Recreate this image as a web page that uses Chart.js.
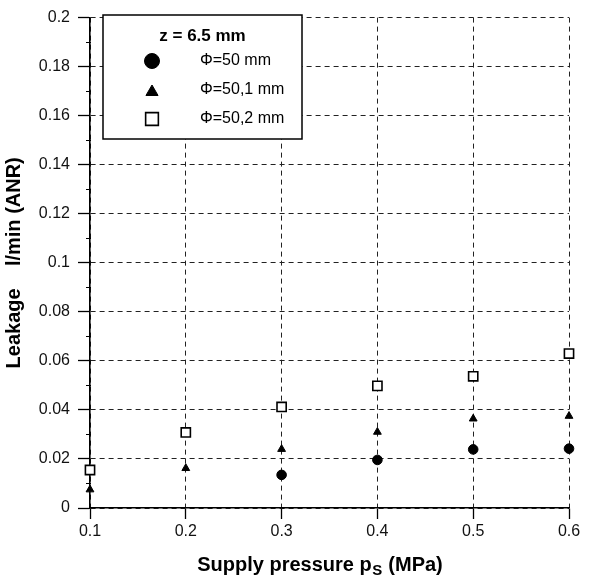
<!DOCTYPE html>
<html><head><meta charset="utf-8">
<script src="https://cdn.jsdelivr.net/npm/chart.js@4.4.1/dist/chart.umd.min.js"></script>
<style>html,body{margin:0;padding:0;background:#fff}#wrap{width:599px;height:578px}</style>
</head><body><div id="wrap"><canvas id="c" width="599" height="578"></canvas></div>
<script>
const pressure = [0.1, 0.2, 0.3, 0.4, 0.5, 0.6];
const leak50  = [null, null, 0.0135, 0.0196, 0.0239, 0.0242];
const leak501 = [0.0075, 0.0162, 0.0240, 0.0310, 0.0364, 0.0375];
const leak502 = [0.0155, 0.0308, 0.0412, 0.0498, 0.0537, 0.0630];
const seriesLabels = ['\u03A6=50 mm', '\u03A6=50,1 mm', '\u03A6=50,2 mm'];
const legendTitle = 'z = 6.5 mm';
const xTitleParts = ['Supply pressure p', 'S', ' (MPa)'];
const yTitle = 'Leakage    l/min (ANR)';
const xTicks = [0.1, 0.2, 0.3, 0.4, 0.5, 0.6];
const yTicks = [0, 0.02, 0.04, 0.06, 0.08, 0.1, 0.12, 0.14, 0.16, 0.18, 0.2];

const FONT = "'Liberation Sans', Arial, sans-serif";
const toPts = ys => pressure.map((x, i) => ({x, y: ys[i]})).filter(p => p.y !== null);

const styles = [
  {pointStyle: 'circle', radius: 4.8, bg: '#000', border: '#000', bw: 1, lr: 7.5},
  {pointStyle: 'triangle', radius: 4.5, bg: '#000', border: '#000', bw: 1, lr: 7},
  {pointStyle: 'rect', radius: 6.5, bg: '#fff', border: '#000', bw: 1.6, lr: 9}
];
const seriesData = [leak50, leak501, leak502];

const decor = {
  id: 'decor',
  afterDraw(chart) {
    const ctx = chart.ctx;
    const ys = chart.scales.y;
    const ca = chart.chartArea;
    ctx.save();
    // minor y ticks
    ctx.strokeStyle = '#000'; ctx.lineWidth = 1;
    for (let k = 1; k < 20; k += 2) {
      const py = Math.round(ys.getPixelForValue(k / 100)) + 0.5;
      ctx.beginPath(); ctx.moveTo(ca.left - 4, py); ctx.lineTo(ca.left + 1, py); ctx.stroke();
    }
    // legend box
    const bx = 103, by = 15, bw = 199, bh = 124;
    ctx.fillStyle = '#fff';
    ctx.fillRect(bx, by, bw, bh);
    ctx.strokeStyle = '#000'; ctx.lineWidth = 1.5;
    ctx.strokeRect(bx, by, bw, bh);
    ctx.fillStyle = '#000';
    ctx.font = 'bold 17px ' + FONT;
    ctx.textAlign = 'center'; ctx.textBaseline = 'middle';
    ctx.fillText(legendTitle, bx + bw / 2, 36);
    const rowY = [61, 90, 119];
    ctx.font = '16px ' + FONT;
    ctx.textAlign = 'left';
    styles.forEach((s, i) => {
      ctx.fillStyle = s.bg; ctx.strokeStyle = s.border; ctx.lineWidth = s.bw;
      const cy = s.pointStyle === 'triangle' ? rowY[i] + 2 : rowY[i];
      Chart.helpers.drawPoint(ctx, {pointStyle: s.pointStyle, radius: s.lr, rotation: 0, borderWidth: s.bw}, 152, cy);
      ctx.fillStyle = '#000';
      ctx.fillText(seriesLabels[i], 200, rowY[i]);
    });
    // x title with subscript
    ctx.fillStyle = '#000';
    ctx.textBaseline = 'alphabetic';
    const mainFont = 'bold 20px ' + FONT, subFont = 'bold 15px ' + FONT;
    ctx.font = mainFont; const w0 = ctx.measureText(xTitleParts[0]).width;
    const w2 = ctx.measureText(xTitleParts[2]).width;
    ctx.font = subFont; const w1 = ctx.measureText(xTitleParts[1]).width + 1;
    const total = w0 + w1 + w2;
    let sx = 320 - total / 2;
    const base = 571;
    ctx.font = mainFont; ctx.fillText(xTitleParts[0], sx, base); sx += w0;
    ctx.font = subFont; ctx.fillText(xTitleParts[1], sx + 0.5, base + 4); sx += w1;
    ctx.font = mainFont; ctx.fillText(xTitleParts[2], sx, base);
    ctx.restore();
  }
};

new Chart(document.getElementById('c'), {
  type: 'scatter',
  data: {
    datasets: seriesData.map((d, i) => ({
      label: seriesLabels[i],
      data: toPts(d),
      pointStyle: styles[i].pointStyle,
      pointRadius: styles[i].radius,
      pointHoverRadius: styles[i].radius,
      backgroundColor: styles[i].bg,
      borderColor: styles[i].border,
      borderWidth: styles[i].bw,
      showLine: false,
      clip: false
    }))
  },
  options: {
    responsive: false,
    animation: false,
    devicePixelRatio: 1,
    layout: {padding: {top: 14, right: 30, left: 0, bottom: 0}},
    plugins: {legend: {display: false}, tooltip: {enabled: false}},
    scales: {
      x: {
        type: 'linear', min: 0.1, max: 0.6,
        afterBuildTicks: s => { s.ticks = xTicks.map(v => ({value: v})); },
        afterFit: s => { s.height = 70; },
        ticks: {color: '#111', font: {family: FONT, size: 16}, padding: 3,
                callback: v => String(+v.toFixed(1))},
        grid: {color: '#222', lineWidth: 1, tickLength: 11, tickColor: '#000', tickWidth: 1.3, tickBorderDash: []},
        border: {display: true, color: '#000', width: 1.6, dash: [5, 4]}
      },
      y: {
        type: 'linear', min: 0, max: 0.2,
        afterBuildTicks: s => { s.ticks = yTicks.map(v => ({value: v})); },
        afterFit: s => { s.width = 90; },
        ticks: {color: '#111', font: {family: FONT, size: 16}, padding: 8,
                callback: v => String(+v.toFixed(2))},
        grid: {color: '#222', lineWidth: 1, tickLength: 12, tickColor: '#000', tickWidth: 1.3, tickBorderDash: []},
        border: {display: true, color: '#000', width: 1.6, dash: [5, 4]},
        title: {display: true, text: yTitle, color: '#000', font: {family: FONT, size: 20, weight: 'bold'}, padding: {top: 2, bottom: 0}}
      }
    }
  },
  plugins: [decor]
});
</script></body></html>
